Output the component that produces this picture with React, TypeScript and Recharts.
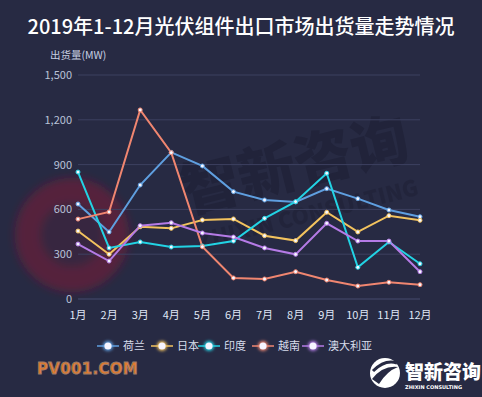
import React from "react";
import { LineChart, Line, XAxis, YAxis, CartesianGrid } from "recharts";

const months = ["1月", "2月", "3月", "4月", "5月", "6月", "7月", "8月", "9月", "10月", "11月", "12月"];
const netherlands = [636, 449, 763, 982, 891, 719, 663, 650, 739, 672, 596, 551];
const japan = [455, 300, 484, 473, 529, 536, 424, 391, 581, 449, 558, 527];
const india = [850, 342, 382, 348, 355, 388, 540, 652, 842, 212, 382, 236];
const vietnam = [535, 583, 1266, 980, 350, 141, 134, 183, 127, 87, 112, 96];
const australia = [368, 254, 491, 511, 442, 415, 342, 299, 507, 388, 388, 183];
const yTicks = [0, 300, 600, 900, 1200, 1500];

const series = [
  { key: "荷兰", values: netherlands, color: "#5f9fe0" },
  { key: "日本", values: japan, color: "#f3c35e" },
  { key: "印度", values: india, color: "#22d3e4" },
  { key: "越南", values: vietnam, color: "#f08670" },
  { key: "澳大利亚", values: australia, color: "#b57be6" },
];

const data = months.map((m, i) => {
  const row: any = { month: m };
  series.forEach((s) => (row[s.key] = s.values[i]));
  return row;
});

const FONT = "'Noto Sans CJK SC', 'Noto Sans', sans-serif";
const BG = "#272a43";

const legendX = [108, 162, 209, 263, 313];

export default function App() {
  return (
    <div style={{ position: "fixed", left: 0, top: 0, width: 482, height: 397, background: BG, overflow: "hidden", fontFamily: FONT }}>
      {/* watermark */}
      <svg width={482} height={397} style={{ position: "absolute", left: 0, top: 0 }}>
        <defs>
          <filter id="soft" x="-50%" y="-50%" width="200%" height="200%">
            <feGaussianBlur stdDeviation="4" />
          </filter>
        </defs>
        <g filter="url(#soft)">
          <circle cx={72} cy={235} r={44} fill="none" stroke="#8e1b30" strokeOpacity={0.45} strokeWidth={26} />
          <circle cx={72} cy={235} r={30} fill="#5a1f38" fillOpacity={0.3} />
        </g>
        <text x={300} y={185} fontSize={58} fontWeight={900} fill="#1f2137" opacity={0.75} transform="rotate(-14 300 185)" textAnchor="middle" fontFamily={FONT}>智新咨询</text>
        <text x={310} y={222} fontSize={22} fontWeight={900} fill="#1f2137" opacity={0.6} transform="rotate(-14 310 222)" textAnchor="middle" fontFamily={FONT}>ZHIXIN CONSULTING</text>
      </svg>
      <div style={{ position: "absolute", left: 0, top: 0 }}>
        <LineChart width={482} height={397} data={data} margin={{ top: 75, right: 62, bottom: 68, left: 18 }}>
          <CartesianGrid vertical={false} stroke="#3d4060" strokeWidth={1} />
          <XAxis
            dataKey="month"
            axisLine={{ stroke: "#3d4060" }}
            tickLine={false}
            tickSize={0}
            tickMargin={12}
            height={30}
            tick={{ fill: "#dfe6f5", fontSize: 11, fontFamily: FONT }}
            interval={0}
          />
          <YAxis
            domain={[0, 1500]}
            ticks={yTicks}
            axisLine={false}
            tickLine={false}
            tickSize={0}
            tickMargin={6}
            width={60}
            tick={{ fill: "#b9c2d8", fontSize: 11, fontFamily: FONT }}
            tickFormatter={(v: number) => v.toLocaleString("en-US")}
          />
          {series.map((s) => (
            <Line
              key={s.key}
              dataKey={s.key}
              type="linear"
              stroke={s.color}
              strokeWidth={2}
              dot={{ r: 2, fill: "#f4f6ff", stroke: s.color, strokeWidth: 1 }}
              activeDot={false}
              isAnimationActive={false}
            />
          ))}
        </LineChart>
      </div>
      <svg width={482} height={397} style={{ position: "absolute", left: 0, top: 0, pointerEvents: "none" }}>
        <defs>
          <filter id="glow" x="-100%" y="-100%" width="300%" height="300%">
            <feGaussianBlur stdDeviation="1.5" />
          </filter>
        </defs>
        <text x={241} y={34} textAnchor="middle" fontSize={20} fontWeight={500} fill="#ffffff" fontFamily={FONT}>2019年1-12月光伏组件出口市场出货量走势情况</text>
        <text x={50} y={59} fontSize={10.5} fill="#c6cee2" fontFamily={FONT}>出货量(MW)</text>
        {series.map((s, i) => (
          <g key={s.key}>
            <line x1={legendX[i] - 11} x2={legendX[i] + 11} y1={346} y2={346} stroke={s.color} strokeWidth={1.5} />
            <circle cx={legendX[i]} cy={346} r={5} fill={s.color} filter="url(#glow)" />
            <circle cx={legendX[i]} cy={346} r={3.6} fill="#f6f4ff" />
            <text x={legendX[i] + 15} y={350} fontSize={11} fill="#d7ddec" fontFamily={FONT}>{s.key}</text>
          </g>
        ))}
        <text x={37} y={374} fontSize={15} fontWeight={900} fill="#e27b2c" stroke="#9a7a6a" strokeWidth={0.9} fontFamily="'DejaVu Sans', sans-serif" letterSpacing={0.3}>PV001.COM</text>
        {/* logo */}
        <g transform="translate(385 373)">
          <circle r={15} fill="#ffffff" />
          <path d="M -13 6 Q -2 -8 13 -6 Q 2 -2 -6 11 Z" fill={BG} />
          <path d="M -12 -2 Q 0 -14 12 -10" stroke={BG} strokeWidth={3} fill="none" />
        </g>
        <text x={405} y={379} fontSize={19} fontWeight={900} fill="#ffffff" fontFamily={FONT}>智新咨询</text>
        <text x={405} y={389} fontSize={5} fontWeight={700} fill="#ffffff" fontFamily="'DejaVu Sans', sans-serif">ZHIXIN CONSULTING</text>
      </svg>
    </div>
  );
}
